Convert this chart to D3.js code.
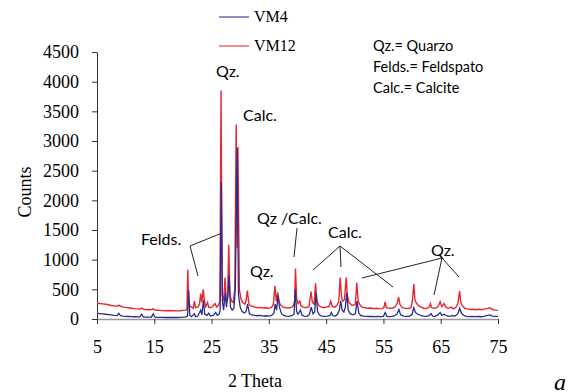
<!DOCTYPE html>
<html>
<head>
<meta charset="utf-8">
<script src="https://cdn.jsdelivr.net/npm/d3@7"></script>
<style>
  body { margin: 0; background: #fff; }
  svg { display: block; }
</style>
</head>
<body>
<script>
// XRD patterns: [2 theta, counts]
const vm12 = [
  [5,265],[5.5,262],[6,255],[6.5,248],[7,240],[7.5,228],[8,222],[8.5,215],[8.8,235],[9.1,215],
  [9.5,205],[10,195],[10.5,190],[11,182],[11.5,175],[12,170],[12.5,168],[12.8,185],[13.1,162],
  [13.5,160],[14,155],[14.5,158],[14.8,170],[15.1,150],[15.5,148],[16,145],[16.5,142],[17,140],
  [17.5,143],[18,138],[18.5,140],[19,137],[19.5,140],[20,145],[20.5,150],[20.7,170],[20.85,830],
  [21.0,300],[21.2,220],[21.5,200],[21.8,180],[22.0,300],[22.2,190],[22.6,200],[22.9,250],
  [23.1,430],[23.3,280],[23.55,500],[23.75,300],[24.0,210],[24.3,280],[24.5,200],[24.8,190],
  [25.2,210],[25.6,260],[25.9,200],[26.2,230],[26.45,300],[26.65,3850],[26.85,400],[27.1,300],
  [27.35,700],[27.55,320],[27.8,350],[28.0,1250],[28.2,400],[28.5,300],[28.8,280],[29.05,500],
  [29.3,3280],[29.45,1200],[29.6,2900],[29.85,500],[30.1,350],[30.4,280],[30.8,250],[31.0,300],
  [31.25,480],[31.5,260],[31.8,220],[32.2,210],[32.6,200],[33,190],[33.5,195],[34,185],[34.5,190],
  [35,180],[35.5,200],[35.8,250],[36.05,560],[36.3,300],[36.55,450],[36.8,280],[37.1,230],
  [37.5,200],[38,190],[38.5,185],[39,200],[39.3,230],[39.5,300],[39.65,850],[39.85,350],
  [40.1,260],[40.4,300],[40.6,220],[41,200],[41.5,190],[42,210],[42.35,460],[42.6,280],
  [42.9,250],[43.15,600],[43.4,300],[43.7,230],[44,210],[44.5,190],[45,200],[45.5,210],
  [45.8,300],[46.1,210],[46.5,200],[46.9,230],[47.2,300],[47.45,700],[47.7,350],[47.9,300],
  [48.2,330],[48.5,700],[48.7,400],[49,280],[49.4,240],[49.8,230],[50.1,250],[50.35,610],
  [50.6,300],[50.9,240],[51.3,200],[51.8,190],[52.3,180],[52.8,185],[53.3,175],[53.8,180],
  [54.3,170],[54.8,175],[55.1,200],[55.3,290],[55.5,190],[56,180],[56.5,185],[57,200],
  [57.4,260],[57.65,370],[57.9,240],[58.3,190],[58.8,180],[59.3,175],[59.8,190],[60.05,300],
  [60.3,590],[60.5,320],[60.8,260],[61.2,220],[61.6,200],[62,180],[62.5,175],[63,200],
  [63.2,260],[63.4,190],[63.8,180],[64.2,185],[64.6,220],[64.9,290],[65.2,210],[65.6,260],
  [65.9,200],[66.3,180],[66.8,200],[67.2,170],[67.6,190],[68.0,260],[68.3,470],[68.5,280],
  [68.8,220],[69.2,180],[69.6,170],[70.2,160],[70.7,165],[71.2,155],[71.7,165],[72.2,155],
  [72.7,170],[73.2,180],[73.6,190],[74,160],[74.5,150],[75,145]
];

const vm4 = [
  [5,95],[5.5,90],[6,85],[6.5,80],[7,75],[7.5,70],[8,62],[8.5,58],[8.8,95],[9.1,55],[9.5,50],
  [10,45],[10.5,42],[11,40],[11.5,38],[12,35],[12.5,35],[12.8,80],[13.1,32],[13.5,30],[14,30],
  [14.5,32],[14.8,85],[15.1,30],[15.5,28],[16,28],[16.5,26],[17,25],[17.5,28],[18,25],[18.5,26],
  [19,25],[19.5,28],[20,30],[20.5,35],[20.8,50],[21.0,490],[21.2,60],[21.5,40],[22,90],[22.2,40],
  [22.6,50],[23.1,150],[23.3,70],[23.6,320],[23.8,80],[24.2,60],[24.5,100],[24.8,50],[25.3,60],
  [25.7,110],[26.0,60],[26.3,80],[26.5,150],[26.7,2300],[26.9,300],[27.1,150],[27.4,450],
  [27.6,200],[27.85,400],[28.05,740],[28.3,200],[28.6,150],[28.9,180],[29.15,500],[29.45,2880],
  [29.7,400],[30,200],[30.3,130],[30.7,100],[31.0,120],[31.3,250],[31.6,90],[32,70],[32.5,60],
  [33,55],[33.5,60],[34,50],[34.5,55],[35,50],[35.5,60],[35.9,100],[36.1,250],[36.35,150],
  [36.6,400],[36.85,200],[37.2,90],[37.6,60],[38,50],[38.5,45],[39,55],[39.4,80],[39.6,500],
  [39.85,120],[40.1,80],[40.5,150],[40.8,60],[41.2,50],[41.7,45],[42.1,80],[42.4,200],[42.7,90],
  [43.0,120],[43.25,440],[43.5,130],[43.8,70],[44.2,50],[44.7,45],[45.2,50],[45.7,60],[45.9,110],
  [46.2,55],[46.6,50],[47.0,80],[47.3,150],[47.55,300],[47.8,150],[48.1,120],[48.35,200],
  [48.6,440],[48.85,150],[49.2,90],[49.7,70],[50.1,90],[50.4,300],[50.7,100],[51,60],[51.5,50],
  [52,45],[52.5,42],[53,45],[53.5,40],[54,42],[54.5,40],[55,45],[55.3,110],[55.6,45],[56,40],
  [56.5,45],[57,55],[57.4,90],[57.7,160],[58,70],[58.5,50],[59,45],[59.5,45],[60,80],[60.3,190],
  [60.6,110],[61,80],[61.5,60],[62,50],[62.5,45],[63,55],[63.3,90],[63.6,50],[64,45],[64.5,70],
  [64.9,110],[65.2,60],[65.6,80],[66,55],[66.5,45],[67,55],[67.5,50],[68,90],[68.3,180],
  [68.6,100],[69,60],[69.5,45],[70,40],[70.5,45],[71,40],[71.5,42],[72,38],[72.5,45],[73,55],
  [73.5,70],[74,50],[74.5,45],[75,45]
];

const xTicks = [5, 15, 25, 35, 45, 55, 65, 75];
const yTicks = [0, 500, 1000, 1500, 2000, 2500, 3000, 3500, 4000, 4500];
const legendNames = ['VM4', 'VM12'];
const keyLines = ['Qz.= Quarzo', 'Felds.= Feldspato', 'Calc.= Calcite'];

const red = '#e8262e';
const blue = '#2b2b8e';
const serif = '"Liberation Serif", "Times New Roman", serif';
const sans = 'Lato, "Open Sans", sans-serif';

const svg = d3.select('body').append('svg')
    .attr('width', 570)
    .attr('height', 392);

// scales
const xScale = d3.scaleLinear().domain([5, 75]).range([97, 498]);
const yScale = d3.scaleLinear().domain([0, 4500]).range([319, 52]);

// y axis
const yAxis = svg.append('g')
    .attr('transform', 'translate(97,0)')
    .call(d3.axisLeft(yScale).tickValues(yTicks).tickFormat(d3.format('d'))
        .tickSize(5).tickSizeOuter(0).tickPadding(13));
yAxis.selectAll('text').attr('font-family', serif).attr('font-size', '18px').attr('fill', '#000');
yAxis.selectAll('line, path').attr('stroke', '#333');

// x axis
const xAxis = svg.append('g')
    .attr('transform', 'translate(0,319)')
    .call(d3.axisBottom(xScale).tickValues(xTicks).tickSize(5).tickSizeOuter(0).tickPadding(16));
xAxis.selectAll('text').attr('font-family', serif).attr('font-size', '18px').attr('fill', '#000');
xAxis.selectAll('line').attr('stroke', '#333');
xAxis.select('path').attr('stroke', '#999').attr('stroke-width', 1.5);

// axis titles
svg.append('text')
    .attr('x', 255).attr('y', 387)
    .attr('text-anchor', 'middle')
    .attr('font-family', serif).attr('font-size', '18px')
    .text('2 Theta');

svg.append('text')
    .attr('transform', 'translate(31,192) rotate(-90)')
    .attr('text-anchor', 'middle')
    .attr('font-family', serif).attr('font-size', '18px')
    .text('Counts');

// patterns
const line = d3.line()
    .x(d => xScale(d[0]))
    .y(d => yScale(d[1]));

svg.append('path')
    .datum(vm12)
    .attr('d', line)
    .attr('fill', 'none')
    .attr('stroke', red)
    .attr('stroke-width', 1.4);

svg.append('path')
    .datum(vm4)
    .attr('d', line)
    .attr('fill', 'none')
    .attr('stroke', blue)
    .attr('stroke-width', 1.3);

// legend
const legend = svg.append('g').selectAll('g')
    .data(legendNames)
    .enter().append('g')
    .attr('transform', (d, i) => `translate(219,${17 + i * 29})`);

legend.append('line')
    .attr('x1', 0).attr('x2', 30)
    .attr('stroke', (d, i) => i === 0 ? blue : red)
    .attr('stroke-opacity', 0.7)
    .attr('stroke-width', 1.5);

legend.append('text')
    .attr('x', 35).attr('y', 5)
    .attr('font-family', serif).attr('font-size', '16px')
    .text(d => d);

// abbreviation key
svg.append('g').selectAll('text')
    .data(keyLines)
    .enter().append('text')
    .attr('x', 373)
    .attr('y', (d, i) => 51 + i * 21)
    .attr('font-family', sans).attr('font-size', '14.5px')
    .text(d => d);

// peak labels
const labels = [
  { t: 'Qz.', x: 216, y: 77 },
  { t: 'Calc.', x: 243, y: 121 },
  { t: 'Felds.', x: 141, y: 245 },
  { t: 'Qz /Calc.', x: 257, y: 224 },
  { t: 'Calc.', x: 328, y: 238 },
  { t: 'Qz.', x: 250, y: 277 },
  { t: 'Qz.', x: 431, y: 256 }
];

svg.append('g').selectAll('text')
    .data(labels)
    .enter().append('text')
    .attr('x', d => d.x).attr('y', d => d.y)
    .attr('font-family', sans).attr('font-size', '16px')
    .text(d => d.t);

// leader lines
const leaders = [
  [190, 246, 222, 233], [190, 246, 198, 276],
  [297, 228, 294, 257],
  [340, 246, 313, 270], [340, 246, 341, 267], [340, 246, 393, 287],
  [442, 258, 362, 278], [442, 258, 434, 295], [442, 258, 459, 277]
];

svg.append('g').selectAll('line')
    .data(leaders)
    .enter().append('line')
    .attr('x1', d => d[0]).attr('y1', d => d[1])
    .attr('x2', d => d[2]).attr('y2', d => d[3])
    .attr('stroke', '#222')
    .attr('stroke-width', 1);

// panel letter
svg.append('text')
    .attr('x', 554).attr('y', 390)
    .attr('font-family', serif).attr('font-style', 'italic').attr('font-size', '24px')
    .text('a');
</script>
</body>
</html>
